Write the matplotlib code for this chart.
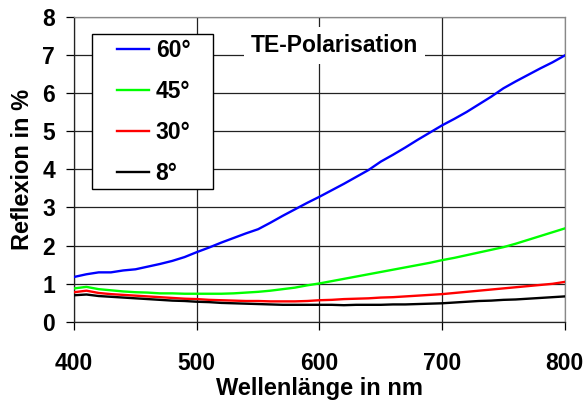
import matplotlib
matplotlib.use("Agg")
import matplotlib.pyplot as plt
from matplotlib.patches import Rectangle

plt.rcParams['font.family'] = ['Liberation Sans', 'DejaVu Sans']

wavelength = list(range(400, 801, 10))
r60 = [1.18, 1.25, 1.30, 1.30, 1.35, 1.38, 1.45, 1.52, 1.60, 1.70, 1.83,
       1.95, 2.08, 2.20, 2.32, 2.43, 2.60, 2.78, 2.95, 3.12, 3.28, 3.45,
       3.62, 3.80, 3.98, 4.20, 4.38, 4.57, 4.77, 4.96, 5.15, 5.32, 5.50,
       5.70, 5.90, 6.12, 6.30, 6.47, 6.64, 6.80, 6.98]
r45 = [0.88, 0.92, 0.86, 0.83, 0.80, 0.78, 0.77, 0.75, 0.75, 0.74, 0.74,
       0.74, 0.74, 0.75, 0.77, 0.79, 0.82, 0.86, 0.90, 0.96, 1.01, 1.07,
       1.13, 1.19, 1.25, 1.31, 1.37, 1.43, 1.49, 1.55, 1.62, 1.68, 1.75,
       1.82, 1.89, 1.96, 2.05, 2.15, 2.25, 2.35, 2.45]
r30 = [0.78, 0.82, 0.76, 0.73, 0.71, 0.69, 0.67, 0.65, 0.63, 0.61, 0.60,
       0.58, 0.57, 0.56, 0.55, 0.55, 0.54, 0.54, 0.54, 0.55, 0.57, 0.58,
       0.60, 0.61, 0.62, 0.64, 0.65, 0.67, 0.69, 0.71, 0.73, 0.76, 0.79,
       0.82, 0.85, 0.88, 0.91, 0.94, 0.97, 1.00, 1.05]
r8 = [0.70, 0.72, 0.68, 0.66, 0.64, 0.62, 0.60, 0.58, 0.56, 0.55, 0.53,
      0.52, 0.50, 0.49, 0.48, 0.47, 0.46, 0.45, 0.45, 0.45, 0.45, 0.45,
      0.44, 0.45, 0.45, 0.45, 0.46, 0.46, 0.47, 0.48, 0.49, 0.51, 0.53,
      0.55, 0.56, 0.58, 0.59, 0.61, 0.63, 0.65, 0.67]
labels = ['60°', '45°', '30°', '8°']
colors = ['#0000FF', '#00FF00', '#FF0000', '#000000']
x_ticks = [400, 500, 600, 700, 800]
y_ticks = [0, 1, 2, 3, 4, 5, 6, 7, 8]

fig = plt.figure(figsize=(5.84, 4.03), dpi=100)
ax = fig.add_axes([0.127, 0.201, 0.840, 0.758])

for y, c, lab in zip([r60, r45, r30, r8], colors, labels):
    ax.plot(wavelength, y, color=c, lw=1.7, label=lab, zorder=3)

ax.set_xlim(400, 800)
ax.set_ylim(0, 8)
ax.set_xticks(x_ticks)
ax.set_yticks(y_ticks)
ax.grid(True, color='#222222', lw=0.9)
ax.set_axisbelow(True)
for s in ax.spines.values():
    s.set_color('#222222')
    s.set_linewidth(0.9)
ax.spines['right'].set_color('#888888')
ax.spines['top'].set_color('#888888')

ax.tick_params(axis='both', direction='out', length=5.8, width=0.9,
               labelsize=16.5)
ax.tick_params(axis='y', pad=8)
ax.tick_params(axis='x', pad=16)
for t in ax.get_xticklabels() + ax.get_yticklabels():
    t.set_fontweight('bold')

ax.set_xlabel('Wellenlänge in nm', fontsize=17, fontweight='bold', labelpad=1)
ax.set_ylabel('Reflexion in %', fontsize=17, fontweight='bold', labelpad=6)

# legend box
rect = Rectangle((0.037, 0.435), 0.246, 0.509, transform=ax.transAxes,
                 facecolor='white', edgecolor='black', lw=1, zorder=5)
ax.add_patch(rect)
leg = ax.legend(loc='center', bbox_to_anchor=(0.162, 0.688), frameon=False,
                prop={'size': 16.5, 'weight': 'bold'}, handlelength=1.4,
                handletextpad=0.3, labelspacing=0.78, borderpad=0,
                borderaxespad=0)
leg.set_zorder(6)

ax.text(0.53, 0.905, 'TE-Polarisation', transform=ax.transAxes,
        ha='center', va='center', fontsize=16.5, fontweight='bold',
        bbox=dict(facecolor='white', edgecolor='none', pad=5), zorder=5)

fig.savefig('out.png', dpi=100)
